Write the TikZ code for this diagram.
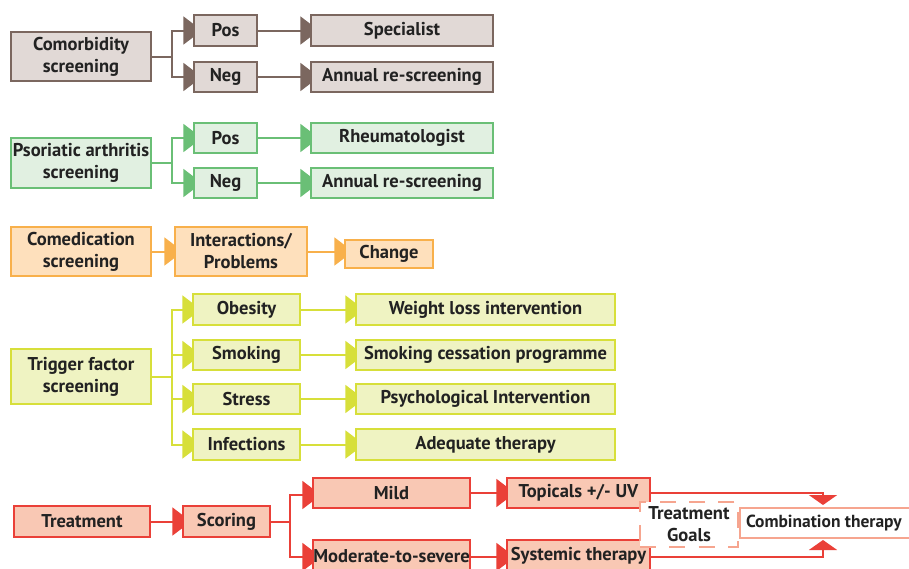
\documentclass[tikz,border=0pt]{standalone}
\usepackage{fontspec}
\setmainfont{PT Sans}
\usetikzlibrary{arrows.meta,backgrounds}
\definecolor{brnD}{HTML}{7B675F}\definecolor{brnF}{HTML}{E1D9D6}
\definecolor{grnD}{HTML}{6ABF76}\definecolor{grnF}{HTML}{E1F0E1}
\definecolor{orgD}{HTML}{F8B04B}\definecolor{orgF}{HTML}{FEE0BC}
\definecolor{ylwD}{HTML}{D7DF3A}\definecolor{ylwF}{HTML}{EFF3C2}
\definecolor{redD}{HTML}{EA4038}\definecolor{redF}{HTML}{F9C8B4}
\definecolor{salD}{HTML}{F6A58F}
\definecolor{txt}{HTML}{222222}
\newcommand\bx[7]{\node[box,#6,minimum width={(#4-#2)*0.75pt},minimum height={(#5-#3)*0.75pt}] (#1) at ({(#2+#4)/2},{(#3+#5)/2}) {#7};}
\tikzset{
  box/.style={draw,line width=1.5pt,inner sep=0pt,outer sep=0pt,align=center,text=txt,
    font=\fontsize{13.9}{16.5}\selectfont\bfseries},
  bbrn/.style={draw=brnD,fill=brnF},
  bgrn/.style={draw=grnD,fill=grnF},
  borg/.style={draw=orgD,fill=orgF},
  bylw/.style={draw=ylwD,fill=ylwF},
  bred/.style={draw=redD,fill=redF},
  conn/.style={line width=1.5pt},
  arr/.style={conn,-{Triangle[length=14pt,width=21pt]},shorten >=-6pt},
  arrs/.style={conn,-{Triangle[length=7.5pt,width=21pt]}},
}
\begin{document}
\begin{tikzpicture}[x=0.75pt,y=-0.75pt]
\useasboundingbox (0,0) rectangle (909,568);
\clip (0,0) rectangle (909,568);
% group 1
\bx{c1}{11}{32}{151}{81}{bbrn}{Comorbidity\\screening}
\bx{c1p}{194}{15}{257}{46}{bbrn}{Pos}
\bx{c1n}{194}{62}{257}{92}{bbrn}{Neg}
\bx{c1s}{311}{15}{493}{46}{bbrn}{Specialist}
\bx{c1a}{311}{62}{493}{92}{bbrn}{Annual re-screening}
\coordinate (c1b) at (172,56.5);
% group 2
\bx{p}{11}{138}{151}{188}{bgrn}{Psoriatic arthritis\\screening}
\bx{pp}{194}{123}{257}{153}{bgrn}{Pos}
\bx{pn}{194}{168}{257}{198}{bgrn}{Neg}
\bx{pr}{311}{123}{493}{153}{bgrn}{Rheumatologist}
\bx{pa}{311}{168}{493}{198}{bgrn}{Annual re-screening}
\coordinate (pb) at (172,163);
% group 3
\bx{m}{11}{227}{151}{276}{borg}{Comedication\\screening}
\bx{mi}{175}{227}{307}{276}{borg}{Interactions/\\Problems}
\bx{mc}{345}{240}{433}{268}{borg}{Change}
% group 4
\bx{t}{11}{349}{151}{404}{bylw}{Trigger factor\\screening}
\bx{to}{193}{294}{300}{325}{bylw}{Obesity}
\bx{ts}{193}{340}{300}{370}{bylw}{Smoking}
\bx{tt}{193}{384}{300}{414}{bylw}{Stress}
\bx{ti}{193}{429}{300}{460}{bylw}{Infections}
\bx{tw}{356}{294}{615}{325}{bylw}{Weight loss intervention}
\bx{tc}{356}{340}{615}{370}{bylw}{Smoking cessation programme}
\bx{tp}{356}{384}{615}{414}{bylw}{Psychological Intervention}
\bx{ta}{356}{429}{615}{460}{bylw}{Adequate therapy}
\coordinate (tb) at (172,376.5);
% group 5
\bx{r}{14}{506}{150}{537}{bred}{Treatment}
\bx{rs}{183}{506}{270}{537}{bred}{Scoring}
\bx{rm}{313}{478}{470}{508}{bred}{Mild}
\bx{rd}{313}{540}{470}{572}{bred}{Moderate-to-severe}
\bx{rt}{507}{478}{650}{508}{bred}{Topicals +/- UV}
\bx{ry}{507}{540}{650}{572}{bred}{Systemic therapy}
\coordinate (rb) at (290,521.5);
\node[box,draw=salD,fill=white,dash pattern=on 12pt off 10pt,minimum width={98*0.75pt},minimum height={45*0.75pt}] (goals) at (689,524.5) {Treatment\\Goals};
\node[box,draw=salD,fill=white,minimum width={230*0.75pt},minimum height={30*0.75pt}] (comb) at (855,523) {};
\node[box,draw=none,fill=none,anchor=west,font=\fontsize{13.1}{16}\selectfont\bfseries] (combt) at (746,523) {Combination therapy};
\coordinate (k1) at (823,493);
\coordinate (k2) at (823,557);
\begin{pgfonlayer}{background}
\draw[conn,brnD] (c1.east) -- (c1b);
\draw[arr,brnD] (c1b) |- (c1p.west);
\draw[arr,brnD] (c1b) |- (c1n.west);
\draw[arr,brnD] (c1p) -- (c1s);
\draw[arr,brnD] (c1n) -- (c1a);
\draw[conn,grnD] (p.east) -- (pb);
\draw[arr,grnD] (pb) |- (pp.west);
\draw[arr,grnD] (pb) |- (pn.west);
\draw[arr,grnD] (pp) -- (pr);
\draw[arr,grnD] (pn) -- (pa);
\draw[arr,orgD] (m) -- (mi);
\draw[arr,orgD] (mi.east) -- (mi.east -| mc.west);
\draw[conn,ylwD] (t.east) -- (tb);
\draw[arr,ylwD] (tb) |- (to.west);
\draw[arr,ylwD] (tb) |- (ts.west);
\draw[arr,ylwD] (tb) |- (tt.west);
\draw[arr,ylwD] (tb) |- (ti.west);
\draw[arr,ylwD] (to) -- (tw);
\draw[arr,ylwD] (ts) -- (tc);
\draw[arr,ylwD] (tt) -- (tp);
\draw[arr,ylwD] (ti) -- (ta);
\draw[arr,redD] (r) -- (rs);
\draw[conn,redD] (rs.east) -- (rb);
\draw[arr,redD] (rb) |- ([yshift=-1.5pt]rm.west);
\draw[arr,redD] (rb) |- (rd.west |- k2);
\draw[arr,redD] (rm) -- (rt);
\draw[arr,redD] (rd.east |- k2) -- (ry.west |- k2);
\end{pgfonlayer}
\draw[arrs,redD] (rt.east) -- (k1) -- ([yshift=2.25pt]k1 |- comb.north);
\draw[arrs,redD] (ry.east |- k2) -- (k2) -- ([yshift=-1.5pt]k2 |- comb.south);
\end{tikzpicture}
\end{document}
